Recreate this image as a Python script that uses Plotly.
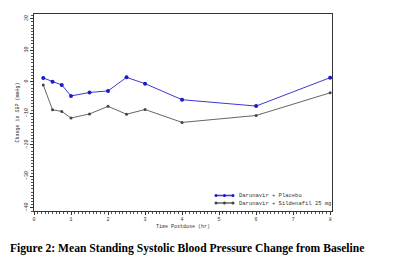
import plotly.graph_objects as go

time_hr = [0.25, 0.5, 0.75, 1.0, 1.5, 2.0, 2.5, 3.0, 4.0, 6.0, 8.0]
placebo = [1.2, 0.0, -1.0, -4.5, -3.4, -2.9, 1.4, -0.6, -5.7, -7.7, 1.3]
sildenafil = [-1.0, -8.9, -9.4, -11.5, -10.2, -7.8, -10.3, -8.8, -12.9, -10.7, -3.5]
series_names = ["Darunavir + Placebo", "Darunavir + Sildenafil 25 mg"]
x_ticks = [0, 1, 2, 3, 4, 5, 6, 7, 8]
y_ticks = [-40, -30, -20, -10, 0, 10, 20]

line_colors = ["#3a3ad0", "#666666"]
marker_colors = ["#1a1acc", "#444444"]

fig = go.Figure()
fig.add_trace(go.Scatter(x=time_hr, y=placebo, mode="lines+markers",
                         name=series_names[0],
                         line=dict(color=line_colors[0], width=1),
                         marker=dict(color=marker_colors[0], size=4)))
fig.add_trace(go.Scatter(x=time_hr, y=sildenafil, mode="lines+markers",
                         name=series_names[1],
                         line=dict(color=line_colors[1], width=1),
                         marker=dict(color=marker_colors[1], size=3)))

# plot area in pixels
L, R, T, B = 34, 332, 14, 211
W, H = R - L, B - T
def px(x):
    return (x - L) / W
def py(y):
    return (B - y) / H

small = dict(family="Liberation Mono", size=5, color="#333333")

# manual compact legend (SAS style: line with three markers)
shapes = []
annotations = []
for i, (name, lc, mc) in enumerate(zip(series_names, line_colors, marker_colors)):
    yy = 195.5 + i * 7.5
    shapes.append(dict(type="line", xref="paper", yref="paper",
                       x0=px(216), x1=px(233), y0=py(yy), y1=py(yy),
                       line=dict(color=lc, width=1.5)))
    r = 1.5
    for cx in (216, 224.5, 233):
        shapes.append(dict(type="circle", xref="paper", yref="paper",
                           x0=px(cx - r), x1=px(cx + r), y0=py(yy + r), y1=py(yy - r),
                           fillcolor=mc, line=dict(color=mc, width=0)))
    annotations.append(dict(text=name, xref="paper", yref="paper",
                            x=px(236.5), y=py(yy), xanchor="left", yanchor="middle",
                            showarrow=False,
                            font=dict(family="Liberation Mono", size=5.5, color="#333333")))

annotations.append(dict(text="<b>Figure 2: Mean Standing Systolic Blood Pressure Change from Baseline</b>",
                        xref="paper", yref="paper", x=-0.087, y=-0.19,
                        xanchor="left", yanchor="middle", showarrow=False,
                        font=dict(family="Liberation Serif", size=11.6, color="black")))

fig.update_layout(
    width=400, height=265,
    margin=dict(l=L, r=400 - R, t=T, b=265 - B),
    paper_bgcolor="white", plot_bgcolor="white",
    showlegend=False,
    xaxis=dict(range=[0, 8.05], tickvals=x_ticks, ticks="outside", ticklen=3,
               tickcolor="#333", tickfont=small, showgrid=False, zeroline=False,
               showline=True, linecolor="#333", linewidth=1, mirror=True,
               minor=dict(dtick=0.1, ticks="outside", ticklen=2, tickcolor="#555"),
               title=dict(text="Time Postdose (hr)", font=small, standoff=2)),
    yaxis=dict(range=[-41, 21.5], tickvals=y_ticks, ticks="outside", ticklen=3,
               tickcolor="#333", tickfont=small, tickangle=-90,
               showgrid=False, zeroline=False,
               showline=True, linecolor="#333", linewidth=1, mirror=True,
               minor=dict(dtick=1, ticks="outside", ticklen=2, tickcolor="#555"),
               title=dict(text="Change in SBP (mmHg)", font=small, standoff=4)),
    shapes=shapes,
    annotations=annotations,
)

fig.write_html("out.html")
